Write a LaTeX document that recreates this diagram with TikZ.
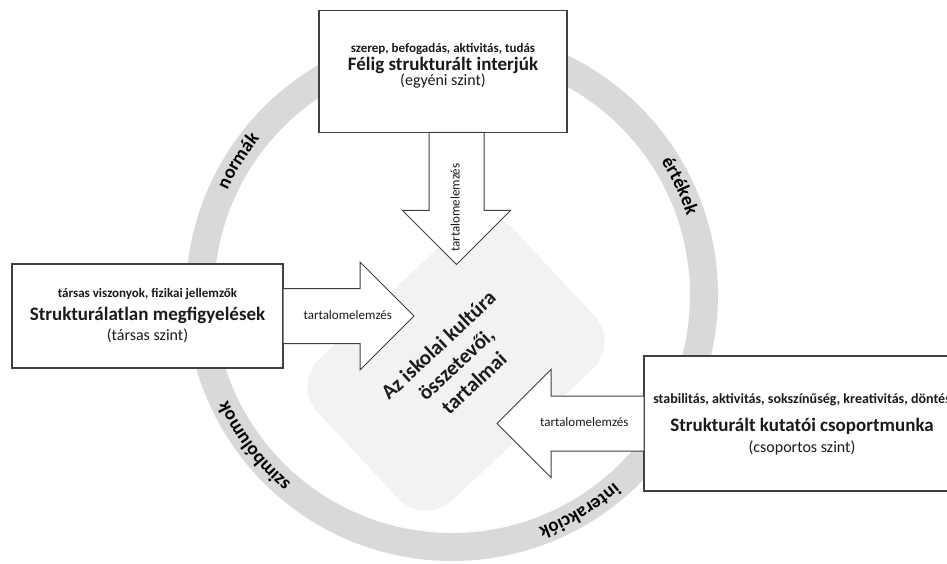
\documentclass[tikz,border=0pt]{standalone}
\usepackage{fontspec}
\setmainfont{Carlito}
\usetikzlibrary{shapes.arrows, decorations.text}

\definecolor{ringgray}{HTML}{D9D9D9}
\definecolor{coregray}{HTML}{F2F2F2}
\definecolor{framegray}{HTML}{404040}
\definecolor{inkgray}{HTML}{1A1A1A}

\newcommand\keysfont{\fontsize{13}{15}\selectfont\bfseries}
\newcommand\methodfont{\fontsize{19}{22}\selectfont\bfseries}
\newcommand\levelfont{\fontsize{16}{19}\selectfont}
\newcommand\ringfont{\fontsize{19}{19}\selectfont\bfseries}
\newcommand\boxlines[1]{\fontsize{13}{#1}\selectfont\lineskiplimit=-100pt\relax}

\begin{document}
\begin{tikzpicture}[
    x=1pt, y=1pt,
    every node/.style={text=inkgray},
    method/.style={
            rectangle,
            draw=framegray,
            line width=1.1pt,
            fill=white,
            align=center,
            inner sep=0pt,
            outer sep=0pt
        },
    flow/.style={
            single arrow,
            draw=framegray,
            line width=1pt,
            fill=white,
            single arrow head extend=26.5pt,
            inner xsep=0pt,
            inner ysep=0pt,
            outer sep=0pt,
            text height=30pt,
            text depth=24pt,
            font=\fontsize{13}{15}\selectfont
        },
    core/.style={
            rectangle,
            rounded corners=38pt,
            fill=coregray,
            minimum width=268pt,
            minimum height=194pt,
            align=center,
            font=\fontsize{21}{26}\selectfont\bfseries
        },
    ringword/.style={
            decorate,
            decoration={text along path, text align=center, text={|\ringfont|#1}}
        },
    ]

    \useasboundingbox (0,0) rectangle (947,563);

    % --- Ring ---
    \coordinate (hub) at (452,268);
    \fill[ringgray, even odd rule] (hub) circle[radius=266] (hub) circle[radius=238];
    \path[ringword=normák] ([shift={(182.9:248)}]hub) arc[start angle=182.9, end angle=112.9, radius=248];
    \path[ringword=értékek] ([shift={(60.6:248)}]hub) arc[start angle=60.6, end angle=-9.4, radius=248];
    \path[ringword=szimbólumok] ([shift={(252.4:248)}]hub) arc[start angle=252.4, end angle=182.4, radius=248];
    \path[ringword=interakciók] ([shift={(-24.4:248)}]hub) arc[start angle=-24.4, end angle=-94.4, radius=248];

    % --- Core ---
    \node[core, rotate=43] (culture) at (456,199) {Az iskolai kultúra\\összetevői,\\tartalmai};

    % --- Methods ---
    \node[method, minimum width=248pt, minimum height=122pt, text depth=15pt,
        font={\boxlines{15}}] (interviews) at (443,491.5)
        {{\keysfont szerep, befogadás, aktivitás, tudás}\\[3pt]{\methodfont Félig strukturált interjúk}\\{\levelfont (egyéni szint)}};
    \node[method, minimum width=271pt, minimum height=104pt, text depth=3pt,
        font={\boxlines{20}}] (observations) at (147.5,247)
        {{\keysfont társas viszonyok, fizikai jellemzők}\\[3pt]{\methodfont Strukturálatlan megfigyelések}\\{\levelfont (társas szint)}};
    \node[method, minimum width=316pt, minimum height=135pt, text depth=0pt,
        font={\boxlines{21}}] (groupwork) at (802,139.5)
        {{\keysfont\fontsize{14}{16}\selectfont stabilitás, aktivitás, sokszínűség, kreativitás, döntés}\\[7pt]{\methodfont Strukturált kutatói csoportmunka}\\{\levelfont (csoportos szint)}};

    % --- Arrows ---
    \node[flow, rotate=90, shape border rotate=180, minimum height=132pt, anchor=tail] (fromint) at ([xshift=13.5pt]interviews.south) {\hspace*{-46pt}tartalomelemzés};
    \node[flow, minimum height=131pt, anchor=tail] (fromobs) at (observations.east) {tartalomelemzés\hspace*{-26pt}};
    \node[flow, shape border rotate=180, minimum height=147pt, anchor=tail] (fromgroup) at (groupwork.west) {tartalomelemzés};

\end{tikzpicture}
\end{document}
